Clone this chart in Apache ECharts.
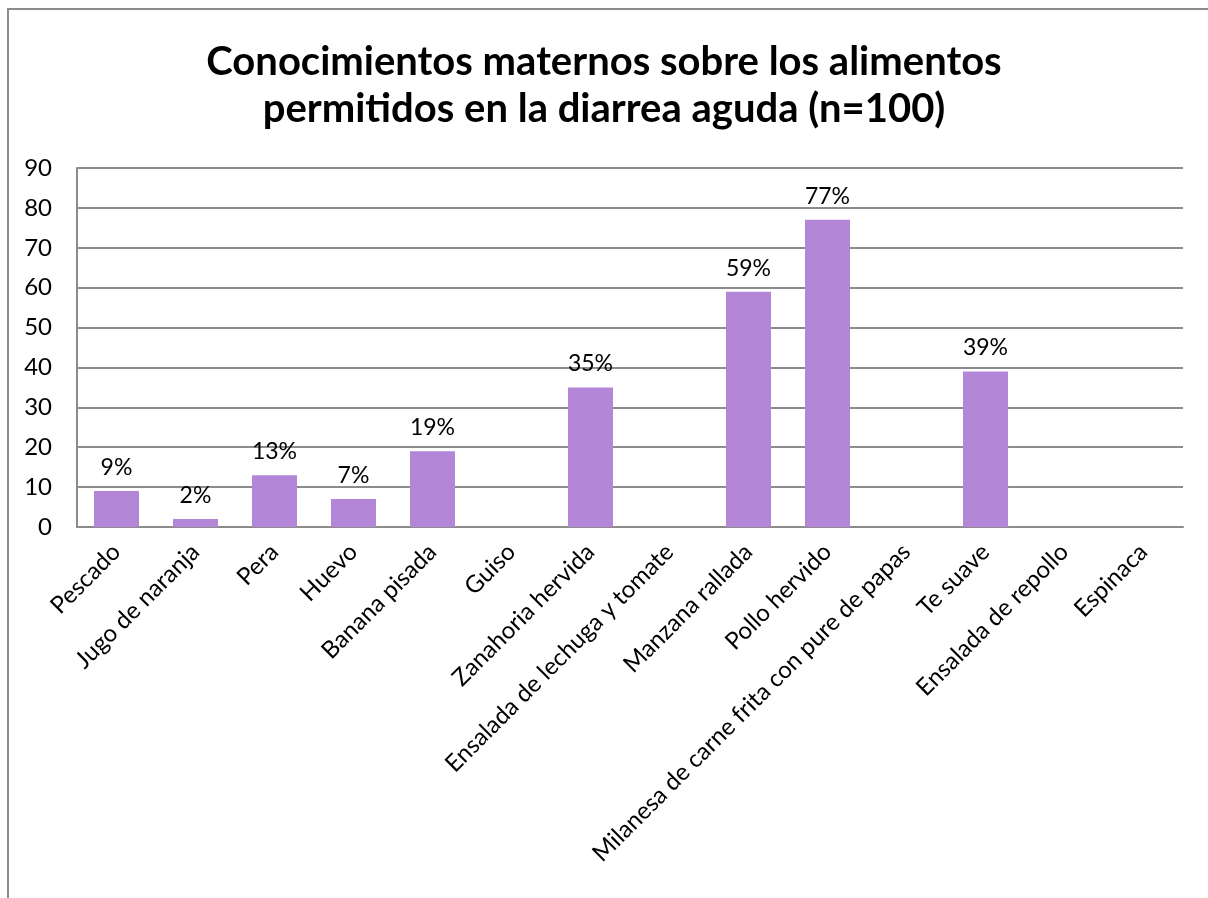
<!DOCTYPE html>
<html>
<head>
<meta charset="utf-8">
<script src="https://cdn.jsdelivr.net/npm/echarts@6/dist/echarts.min.js"></script>
<style>
  html, body { margin: 0; padding: 0; background: #fff; }
  #chart { width: 1208px; height: 898px; }
</style>
</head>
<body>
<div id="chart"></div>
<script>
// Foods mothers consider allowed during acute diarrhoea (percent of n=100)
const categories = [
  'Pescado', 'Jugo de naranja', 'Pera', 'Huevo', 'Banana pisada', 'Guiso',
  'Zanahoria hervida', 'Ensalada de lechuga y tomate', 'Manzana rallada',
  'Pollo hervido', 'Milanesa de carne frita con pure de papas', 'Te suave',
  'Ensalada de repollo', 'Espinaca'
];
const percentages = [9, 2, 13, 7, 19, 0, 35, 0, 59, 77, 0, 39, 0, 0];
const yTicks = [0, 10, 20, 30, 40, 50, 60, 70, 80, 90];

const FONT = 'Lato, "Open Sans", sans-serif';
const GRID_COLOR = '#8c8c8c';

const chart = echarts.init(document.getElementById('chart'), null, { renderer: 'canvas' });
chart.setOption({
  backgroundColor: '#ffffff',
  animation: false,
  title: {
    text: 'Conocimientos maternos sobre los alimentos\npermitidos en la diarrea aguda (n=100)',
    left: 'center',
    top: 34,
    textStyle: {
      fontFamily: FONT,
      fontWeight: 'bold',
      fontSize: 40,
      lineHeight: 47,
      color: '#000'
    }
  },
  graphic: [{
    type: 'rect',
    shape: { x: 8, y: 9, width: 1260, height: 1000 },
    style: { fill: 'none', stroke: GRID_COLOR, lineWidth: 2 },
    silent: true
  }],
  grid: { left: 77, right: 25, top: 168, bottom: 371, containLabel: false },
  xAxis: {
    type: 'category',
    data: categories,
    axisLine: { show: true, lineStyle: { color: GRID_COLOR, width: 2 } },
    axisTick: { show: false },
    axisLabel: {
      interval: 0,
      rotate: 45,
      margin: 21,
      fontFamily: FONT,
      fontSize: 24,
      color: '#000'
    }
  },
  yAxis: {
    type: 'value',
    min: yTicks[0],
    max: yTicks[yTicks.length - 1],
    interval: 10,
    axisLine: { show: true, lineStyle: { color: GRID_COLOR, width: 2 } },
    axisTick: { show: false },
    splitLine: { show: true, lineStyle: { color: GRID_COLOR, width: 2 } },
    axisLabel: {
      margin: 25,
      fontFamily: FONT,
      fontSize: 24,
      color: '#000'
    }
  },
  series: [{
    type: 'bar',
    data: percentages,
    barWidth: '57%',
    itemStyle: { color: '#b386d8' },
    label: {
      show: true,
      position: 'top',
      distance: 12,
      fontFamily: FONT,
      fontSize: 23,
      color: '#000',
      formatter: p => (p.value ? p.value + '%' : '')
    }
  }]
});
</script>
</body>
</html>
